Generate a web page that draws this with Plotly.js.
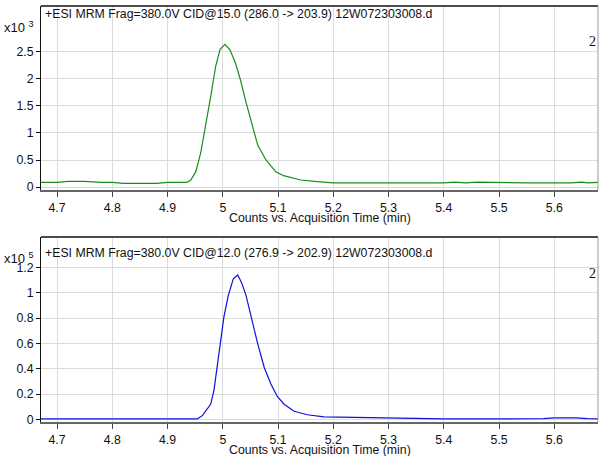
<!DOCTYPE html>
<html><head><meta charset="utf-8">
<script src="https://cdn.plot.ly/plotly-3.0.1.min.js"></script>
<style>html,body{margin:0;padding:0;background:#fff;}#chart{width:599px;height:456px;}</style>
</head><body><div id="chart"></div>
<script>
// Top chromatogram (x10^3 counts)
const timeTop = [4.67,4.70,4.72,4.75,4.78,4.80,4.82,4.85,4.88,4.90,4.93,4.935,4.942,4.951,4.960,4.969,4.978,4.987,4.995,5.004,5.013,5.023,5.032,5.041,5.051,5.063,5.078,5.096,5.110,5.141,5.171,5.20,5.24,5.30,5.35,5.40,5.42,5.44,5.46,5.50,5.55,5.60,5.63,5.65,5.66,5.68];
const countsTop = [0.087,0.087,0.105,0.105,0.087,0.087,0.068,0.068,0.068,0.087,0.087,0.085,0.13,0.28,0.63,1.12,1.67,2.23,2.55,2.64,2.54,2.29,1.98,1.61,1.24,0.78,0.50,0.28,0.21,0.13,0.10,0.078,0.078,0.075,0.075,0.075,0.09,0.075,0.09,0.078,0.075,0.075,0.075,0.09,0.078,0.085];
// Bottom chromatogram (x10^5 counts)
const timeBot = [4.67,4.80,4.90,4.954,4.963,4.972,4.978,4.984,4.990,4.996,5.002,5.010,5.019,5.027,5.034,5.042,5.051,5.063,5.075,5.087,5.099,5.111,5.129,5.153,5.183,5.207,5.231,5.30,5.34,5.40,5.50,5.58,5.60,5.64,5.66,5.68];
const countsBot = [0.005,0.005,0.005,0.005,0.03,0.08,0.12,0.23,0.41,0.63,0.81,0.98,1.11,1.14,1.08,0.98,0.81,0.60,0.41,0.28,0.18,0.12,0.065,0.037,0.02,0.018,0.015,0.013,0.008,0.005,0.005,0.006,0.013,0.013,0.006,0.005];
const xTicks = [4.7,4.8,4.9,5.0,5.1,5.2,5.3,5.4,5.5,5.6];
const xTickText = ["4.7","4.8","4.9","5","5.1","5.2","5.3","5.4","5.5","5.6"];
const titleTop = "+ESI MRM Frag=380.0V CID@15.0 (286.0 -> 203.9) 12W072303008.d";
const titleBot = "+ESI MRM Frag=380.0V CID@12.0 (276.9 -> 202.9) 12W072303008.d";
const xTitle = "Counts vs. Acquisition Time (min)";

const fam = "Liberation Sans, Arial, sans-serif";
const font = {family: fam, size: 12, color: "#111"};
const traces = [
  {x: timeTop, y: countsTop, type: "scatter", mode: "lines", line: {color: "#1a8c1a", width: 1.2}, xaxis: "x", yaxis: "y", hoverinfo: "skip"},
  {x: timeBot, y: countsBot, type: "scatter", mode: "lines", line: {color: "#1010dd", width: 1.2}, xaxis: "x2", yaxis: "y2", hoverinfo: "skip"}
];
const xBase = {range: [4.671, 5.679], tickvals: xTicks, ticktext: xTickText, ticks: "outside", ticklen: 5, tickcolor: "#444",
  showgrid: true, gridcolor: "#dcdcdc", gridwidth: 1, zeroline: false, showline: true, linecolor: "#666", linewidth: 2,
  tickfont: {family: fam, size: 12.3, color: "#111"}, fixedrange: true};
const yBase = {ticks: "outside", ticklen: 4, tickcolor: "#111", showgrid: true, gridcolor: "#dcdcdc", gridwidth: 1,
  zeroline: false, showline: true, linecolor: "#111", linewidth: 1, tickfont: {family: fam, size: 12.3, color: "#111"}, fixedrange: true};
const layout = {
  width: 599, height: 456, margin: {l: 41, r: 1, t: 6, b: 34}, paper_bgcolor: "#fff", plot_bgcolor: "#fff",
  showlegend: false, font: font,
  xaxis: Object.assign({}, xBase, {domain: [0, 1], anchor: "y"}),
  yaxis: Object.assign({}, yBase, {domain: [0.5577, 1], range: [-0.055, 3.35], tickvals: [0,0.5,1,1.5,2,2.5], anchor: "x"}),
  xaxis2: Object.assign({}, xBase, {domain: [0, 1], anchor: "y2"}),
  yaxis2: Object.assign({}, yBase, {domain: [0, 0.4447], range: [-0.02, 1.44], tickvals: [0,0.2,0.4,0.6,0.8,1,1.2], anchor: "x2"}),
  shapes: [
    {type: "line", xref: "x domain", yref: "y domain", x0: 0, x1: 1, y0: 1, y1: 1, line: {color: "#111", width: 1.5}},
    {type: "line", xref: "x domain", yref: "y domain", x0: 1, x1: 1, y0: 0, y1: 1, line: {color: "#999", width: 1}},
    {type: "line", xref: "x2 domain", yref: "y2 domain", x0: 0, x1: 1, y0: 1, y1: 1, line: {color: "#111", width: 1.5}},
    {type: "line", xref: "x2 domain", yref: "y2 domain", x0: 1, x1: 1, y0: 0, y1: 1, line: {color: "#999", width: 1}}
  ],
  annotations: [
    {text: titleTop, xref: "paper", yref: "paper", x: 0.004, y: 0.9808, xanchor: "left", yanchor: "middle", showarrow: false, font: {family: fam, size: 12.3, color: "#111"}},
    {text: titleBot, xref: "paper", yref: "paper", x: 0.004, y: 0.406, xanchor: "left", yanchor: "middle", showarrow: false, font: {family: fam, size: 12.3, color: "#111"}},
    {text: "x10 <sup>3</sup>", xref: "paper", yref: "paper", x: 0, xshift: -5, y: 0.9495, xanchor: "right", yanchor: "middle", showarrow: false, font: {family: fam, size: 13, color: "#111"}},
    {text: "x10 <sup>5</sup>", xref: "paper", yref: "paper", x: 0, xshift: -5, y: 0.394, xanchor: "right", yanchor: "middle", showarrow: false, font: {family: fam, size: 13, color: "#111"}},
    {text: "2", xref: "paper", yref: "paper", x: 1, y: 0.9135, xanchor: "right", yanchor: "middle", showarrow: false, font: {family: "Liberation Serif, Times New Roman, serif", size: 14, color: "#111"}},
    {text: "2", xref: "paper", yref: "paper", x: 1, y: 0.358, xanchor: "right", yanchor: "middle", showarrow: false, font: {family: "Liberation Serif, Times New Roman, serif", size: 14, color: "#111"}},
    {text: xTitle, xref: "paper", yref: "paper", x: 0.5, y: 0.4905, xanchor: "center", yanchor: "middle", showarrow: false, font: {family: fam, size: 12.3, color: "#111"}},
    {text: xTitle, xref: "paper", yref: "paper", x: 0.5, y: -0.067, xanchor: "center", yanchor: "middle", showarrow: false, font: {family: fam, size: 12.3, color: "#111"}}
  ]
};
Plotly.newPlot("chart", traces, layout, {staticPlot: true, displayModeBar: false});
</script></body></html>
